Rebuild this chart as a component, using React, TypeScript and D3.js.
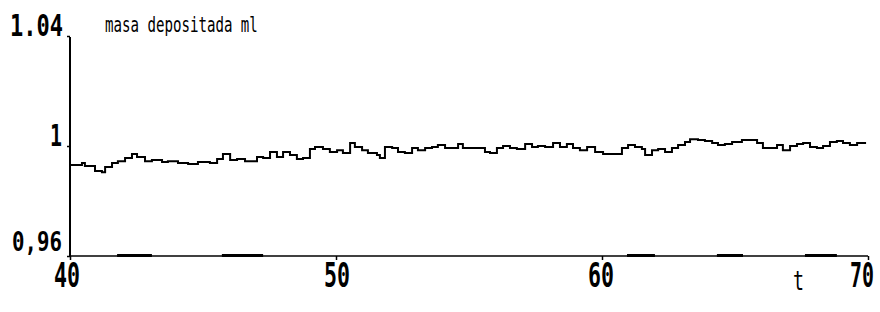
import { useEffect, useRef } from 'react';
import * as d3 from 'd3';

const times = [
  40, 40.15, 40.3, 40.45, 40.56, 40.75, 40.94, 41.2, 41.32, 41.58, 41.8, 42.07, 42.33, 42.52, 42.82,
  43.08, 43.46, 43.68, 44.06, 44.44, 44.81, 45.08, 45.26, 45.53, 45.75, 46.02, 46.28, 46.58, 46.88,
  47.03, 47.26, 47.52, 47.78, 48.01, 48.27, 48.53, 48.76, 49.02, 49.21, 49.51, 49.77, 50.04, 50.26,
  50.53, 50.71, 50.98, 51.2, 51.54, 51.65, 51.84, 52.11, 52.33, 52.59, 52.86, 53.08, 53.35, 53.61,
  53.83, 54.1, 54.36, 54.59, 54.77, 55.11, 55.41, 55.6, 55.79, 56.05, 56.28, 56.54, 56.8, 57.11,
  57.37, 57.59, 57.86, 58.16, 58.42, 58.68, 58.91, 59.17, 59.44, 59.74, 60.04, 60.3, 60.49, 60.75,
  60.98, 61.24, 61.5, 61.62, 61.88, 62.11, 62.37, 62.63, 62.86, 63.12, 63.31, 63.61, 63.87, 64.14,
  64.36, 64.62, 64.89, 65.26, 65.56, 65.83, 66.05, 66.32, 66.58, 66.8, 67.07, 67.33, 67.56, 67.82,
  68.08, 68.31, 68.57, 68.83, 69.06, 69.32, 69.59, 69.89,
];

const masses = [
  0.9931, 0.9931, 0.9931, 0.9938, 0.9927, 0.9927, 0.9909, 0.9905, 0.9924, 0.9938, 0.9945, 0.9956,
  0.9971, 0.996, 0.9945, 0.9949, 0.9942, 0.9945, 0.9938, 0.9935, 0.9942, 0.9942, 0.9938, 0.9953,
  0.9971, 0.9949, 0.9953, 0.9945, 0.9945, 0.996, 0.9956, 0.9978, 0.996, 0.9978, 0.9967, 0.9953,
  0.9956, 0.9989, 0.9996, 0.9989, 0.9978, 0.9985, 0.9975, 1.0011, 0.9996, 0.9985, 0.9975, 0.9967,
  0.9956, 0.9996, 0.9993, 0.9978, 0.9975, 0.9993, 0.9985, 0.9993, 0.9996, 1.0004, 0.9993, 0.9993,
  1.0007, 0.9993, 0.9993, 0.9993, 0.9978, 0.9975, 0.9993, 1.0, 0.9993, 0.9989, 1.0007, 0.9996,
  1.0, 0.9996, 1.0011, 0.9996, 1.0007, 0.9993, 0.9985, 0.9996, 0.9978, 0.9971, 0.9971, 0.9971,
  0.9993, 1.0004, 0.9996, 0.9989, 0.9967, 0.9985, 0.9989, 0.9978, 0.9993, 1.0004, 1.0015, 1.0025,
  1.0022, 1.0018, 1.0011, 1.0004, 1.0007, 1.0015, 1.0022, 1.0022, 1.0011, 0.9993, 0.9993, 1.0004,
  0.9985, 1.0, 1.0007, 1.0011, 0.9996, 0.9993, 1.0, 1.0015, 1.0018, 1.0011, 1.0004, 1.0011, 1.0015,
  0.9996,
];

// short stretches where a second trace lies on the baseline
const baseRunStart = [41.77, 45.71, 60.94, 64.32, 67.63];
const baseRunEnd = [43.08, 47.26, 61.99, 65.3, 68.83];

const xTicks = [40, 50, 60, 70];
const xTickLabels = ['40', '50', '60', '70'];
const yTicks = [0.96, 1, 1.04];
const yTickLabels = ['0,96', '1', '1.04'];

const W = 880;
const H = 312;
const margin = { top: 36, right: 12, bottom: 56, left: 70 };
const MONO = '"DejaVu Sans Mono", "Liberation Mono", monospace';

type Sel = d3.Selection<SVGSVGElement, unknown, null, undefined>;

// old plotter look: tall, narrow monospace glyphs
function squeezed(svg: Sel, txt: string, x: number, y: number, size: number, width: number, bold = true) {
  const natural = txt.length * size * 0.602;
  const sx = width / natural;
  svg.append('text')
    .attr('transform', `translate(${x},${y}) scale(${sx},1)`)
    .attr('font-family', MONO)
    .attr('font-weight', bold ? 'bold' : 'normal')
    .attr('font-size', size)
    .text(txt);
}

export default function App() {
  const ref = useRef<SVGSVGElement | null>(null);

  useEffect(() => {
    const svg = d3.select(ref.current) as Sel;
    svg.selectAll('*').remove();

    const x = d3.scaleLinear().domain([40, 70]).range([margin.left, W - margin.right]);
    const y = d3.scaleLinear().domain([0.96, 1.04]).range([H - margin.bottom, margin.top]);

    svg.append('rect').attr('width', W).attr('height', H).attr('fill', '#fff');

    // axes
    const gx = svg.append('g')
      .attr('transform', `translate(0,${y(0.96)})`)
      .call(d3.axisBottom(x).tickValues(xTicks).tickSize(4).tickFormat(() => ''));
    gx.select('.domain').attr('stroke-width', 1.6).attr('d', `M${x(40)},0H${x(70)}`);
    gx.selectAll('line').attr('stroke-width', 1.5);

    const gy = svg.append('g')
      .attr('transform', `translate(${x(40)},0)`)
      .call(d3.axisLeft(y).tickValues(yTicks).tickSize(3).tickFormat(() => ''));
    gy.select('.domain').attr('stroke-width', 2).attr('d', `M0,${y(1.04) + 1}V${y(0.96)}`);
    gy.selectAll('line').attr('stroke-width', 1.5);

    // baseline runs
    svg.append('g')
      .selectAll('line')
      .data(baseRunStart.map((s, i) => [s, baseRunEnd[i]]))
      .join('line')
      .attr('x1', (d) => x(d[0]))
      .attr('x2', (d) => x(d[1]))
      .attr('y1', y(0.96) - 0.5)
      .attr('y2', y(0.96) - 0.5)
      .attr('stroke', '#000')
      .attr('stroke-width', 3);

    // series
    const line = d3.line<number>()
      .x((_, i) => x(times[i]))
      .y((d) => y(d))
      .curve(d3.curveStepAfter);
    svg.append('path')
      .datum(masses)
      .attr('d', line)
      .attr('fill', 'none')
      .attr('stroke', '#000')
      .attr('stroke-width', 2)
      .attr('stroke-linejoin', 'miter');

    // y labels sit just above their tick
    squeezed(svg, yTickLabels[0], 12, y(yTicks[0]) - 5, 27, 50);
    squeezed(svg, yTickLabels[1], 50, y(yTicks[1]), 30, 12);
    squeezed(svg, yTickLabels[2], 10, y(yTicks[2]), 30, 53);

    // x labels
    const xOff = [-16, -12, -14, -18];
    xTicks.forEach((v, i) => {
      squeezed(svg, xTickLabels[i], x(v) + xOff[i], y(0.96) + 31, 34, v === 70 ? 24 : 26);
    });

    squeezed(svg, 't', 793, 290, 26, 11, false);
    squeezed(svg, 'masa depositada ml', 105, 32, 21, 153, false);
  }, []);

  return (
    <svg
      ref={ref}
      width={W}
      height={H}
      style={{ position: 'absolute', left: 0, top: 0, display: 'block' }}
    />
  );
}
